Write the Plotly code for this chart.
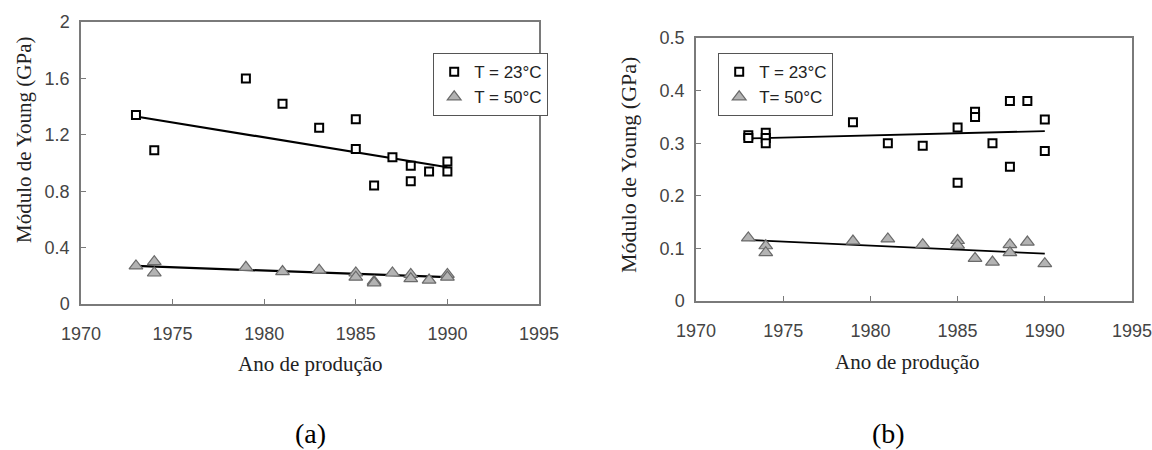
import plotly.graph_objects as go

# ---------------- data ----------------
years_a_23 = [1973, 1974, 1979, 1981, 1983, 1985, 1985, 1986, 1987, 1988, 1988, 1989, 1990, 1990]
E_a_23 = [1.34, 1.09, 1.60, 1.42, 1.25, 1.31, 1.10, 0.84, 1.04, 0.98, 0.87, 0.94, 1.01, 0.94]

years_a_50 = [1973, 1974, 1974, 1979, 1981, 1983, 1985, 1985, 1986, 1986, 1987, 1988, 1988, 1989, 1990, 1990]
E_a_50 = [0.27, 0.30, 0.22, 0.26, 0.23, 0.24, 0.22, 0.19, 0.16, 0.15, 0.22, 0.21, 0.18, 0.17, 0.21, 0.19]

years_b_23 = [1973, 1973, 1974, 1974, 1974, 1979, 1981, 1983, 1985, 1985, 1986, 1986, 1987, 1988, 1988, 1989, 1990, 1990]
E_b_23 = [0.315, 0.31, 0.32, 0.31, 0.30, 0.34, 0.30, 0.295, 0.33, 0.225, 0.36, 0.35, 0.30, 0.38, 0.255, 0.38, 0.345, 0.285]

years_b_50 = [1973, 1974, 1974, 1979, 1981, 1983, 1985, 1985, 1986, 1987, 1988, 1988, 1989, 1990]
E_b_50 = [0.12, 0.105, 0.092, 0.114, 0.118, 0.107, 0.115, 0.106, 0.081, 0.074, 0.107, 0.092, 0.112, 0.071]

trend_years = [1973, 1990]
trend_a_23 = [1.33, 0.97]
trend_a_50 = [0.27, 0.19]
trend_b_23 = [0.309, 0.323]
trend_b_50 = [0.116, 0.090]

x_ticks = [1970, 1975, 1980, 1985, 1990, 1995]
y_ticks_a = [0, 0.4, 0.8, 1.2, 1.6, 2]
y_ticks_b = [0, 0.1, 0.2, 0.3, 0.4, 0.5]

label_a_23 = "T = 23°C"
label_a_50 = "T = 50°C"
label_b_23 = "T = 23°C"
label_b_50 = "T= 50°C"
x_title = "Ano de produção"
y_title = "Módulo de Young (GPa)"

# ---------------- styling ----------------
W, H = 1152, 450
SANS = "Arial, Liberation Sans, sans-serif"
SERIF = "Times New Roman, Liberation Serif, serif"
FRAME = "#7a7a7a"

sq_marker = dict(symbol="square", size=8, color="white", line=dict(color="black", width=2))
tri_marker = dict(symbol="triangle-up", size=12, color="#b3b3b3", line=dict(color="#6a6a6a", width=1.2))

fig = go.Figure()

# trend lines first (drawn under the markers)
fig.add_trace(go.Scatter(x=trend_years, y=trend_a_23, mode="lines", line=dict(color="black", width=2.2),
                         showlegend=False, xaxis="x", yaxis="y"))
fig.add_trace(go.Scatter(x=trend_years, y=trend_a_50, mode="lines", line=dict(color="black", width=2.2),
                         showlegend=False, xaxis="x", yaxis="y"))
fig.add_trace(go.Scatter(x=trend_years, y=trend_b_23, mode="lines", line=dict(color="black", width=1.8),
                         showlegend=False, xaxis="x2", yaxis="y2"))
fig.add_trace(go.Scatter(x=trend_years, y=trend_b_50, mode="lines", line=dict(color="black", width=1.8),
                         showlegend=False, xaxis="x2", yaxis="y2"))

# left panel markers
fig.add_trace(go.Scatter(x=years_a_23, y=E_a_23, mode="markers", marker=sq_marker,
                         name=label_a_23, xaxis="x", yaxis="y", legend="legend"))
fig.add_trace(go.Scatter(x=years_a_50, y=E_a_50, mode="markers", marker=tri_marker,
                         name=label_a_50, xaxis="x", yaxis="y", legend="legend"))
# right panel markers
fig.add_trace(go.Scatter(x=years_b_23, y=E_b_23, mode="markers", marker=sq_marker,
                         name=label_b_23, xaxis="x2", yaxis="y2", legend="legend2"))
fig.add_trace(go.Scatter(x=years_b_50, y=E_b_50, mode="markers", marker=tri_marker,
                         name=label_b_50, xaxis="x2", yaxis="y2", legend="legend2"))


def px_x(p):
    return p / W


def px_y(p):
    return 1 - p / H


axis_common = dict(showgrid=False, zeroline=False, showline=True, linecolor=FRAME, linewidth=1.5,
                   mirror=True, ticks="inside", ticklen=5, tickcolor=FRAME, tickwidth=1.2,
                   automargin=False, ticklabeloverflow="allow",
                   tickfont=dict(family=SANS, size=18, color="#444444"))

legend_common = dict(xanchor="left", yanchor="top", bordercolor="#555555", borderwidth=1.2,
                     bgcolor="white", font=dict(family=SANS, size=17, color="#222222"),
                     itemwidth=30, tracegroupgap=0)

fig.update_layout(
    width=W, height=H,
    margin=dict(l=0, r=0, t=0, b=0, autoexpand=False),
    paper_bgcolor="white", plot_bgcolor="white",
    xaxis=dict(domain=[px_x(81), px_x(539)], range=[1970, 1995], tickvals=x_ticks,
               ticklabelstandoff=13, anchor="y", **axis_common),
    yaxis=dict(domain=[px_y(304), px_y(22)], range=[0, 2], tickvals=y_ticks_a,
               ticklabelstandoff=6, anchor="x", **axis_common),
    xaxis2=dict(domain=[px_x(696), px_x(1132)], range=[1970, 1995], tickvals=x_ticks,
                ticklabelstandoff=13, anchor="y2", **axis_common),
    yaxis2=dict(domain=[px_y(301), px_y(38)], range=[0, 0.5], tickvals=y_ticks_b,
                ticklabelstandoff=6, anchor="x2", **axis_common),
    legend=dict(x=px_x(433), y=px_y(53), **legend_common),
    legend2=dict(x=px_x(718), y=px_y(53), **legend_common),
)

ann_font = dict(family=SERIF, size=21, color="#222222")
annotations = [
    dict(text=x_title, x=px_x(310), y=px_y(364), xref="paper", yref="paper",
         showarrow=False, font=ann_font, xanchor="center", yanchor="middle"),
    dict(text=x_title, x=px_x(907), y=px_y(362), xref="paper", yref="paper",
         showarrow=False, font=ann_font, xanchor="center", yanchor="middle"),
    dict(text=y_title, x=px_x(24), y=px_y(140), xref="paper", yref="paper", textangle=-90,
         showarrow=False, font=ann_font, xanchor="center", yanchor="middle"),
    dict(text=y_title, x=px_x(628), y=px_y(165), xref="paper", yref="paper", textangle=-90,
         showarrow=False, font=dict(family=SERIF, size=22, color="#222222"),
         xanchor="center", yanchor="middle"),
    dict(text="(a)", x=px_x(310), y=px_y(433), xref="paper", yref="paper",
         showarrow=False, font=dict(family=SERIF, size=28, color="black"),
         xanchor="center", yanchor="middle"),
    dict(text="(b)", x=px_x(888), y=px_y(433), xref="paper", yref="paper",
         showarrow=False, font=dict(family=SERIF, size=28, color="black"),
         xanchor="center", yanchor="middle"),
]
fig.update_layout(annotations=annotations)

fig.write_html("out.html")
